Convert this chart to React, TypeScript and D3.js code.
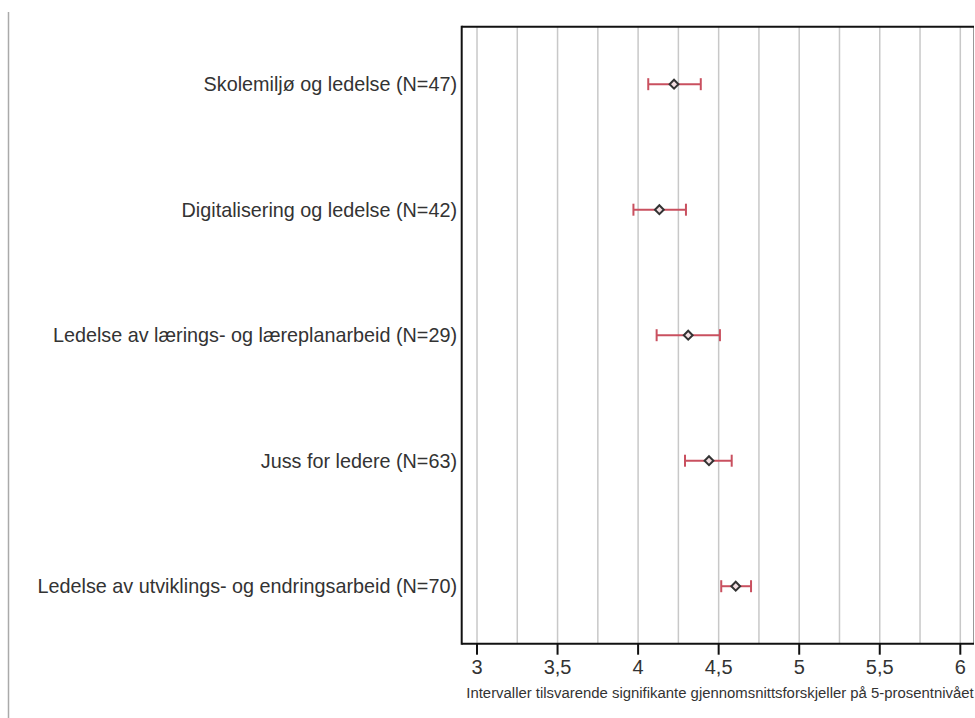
import React from "react";
import * as d3 from "d3";

const categories = [
  "Skolemiljø og ledelse (N=47)",
  "Digitalisering og ledelse (N=42)",
  "Ledelse av lærings- og læreplanarbeid (N=29)",
  "Juss for ledere (N=63)",
  "Ledelse av utviklings- og endringsarbeid (N=70)",
];
const means = [4.223, 4.132, 4.311, 4.44, 4.606];
const lower = [4.063, 3.971, 4.115, 4.291, 4.516];
const upper = [4.389, 4.297, 4.508, 4.581, 4.701];
const tickValues = [3, 3.5, 4, 4.5, 5, 5.5, 6];
const gridValues = [3, 3.25, 3.5, 3.75, 4, 4.25, 4.5, 4.75, 5, 5.25, 5.5, 5.75, 6];
const xTitle = "Intervaller tilsvarende signifikante gjennomsnittsforskjeller på 5-prosentnivået";

const W = 975;
const H = 718;
const left = 461.7;
const right = 974;
const top = 26.7;
const bottom = 643.7;

export default function App() {
  const x = d3.scaleLinear().domain([2.905, 6.085]).range([left, right]);
  const y = d3.scalePoint<string>().domain(categories).range([top, bottom]).padding(0.458);
  const fmt = (v: number) => String(v).replace(".", ",");
  const font = "'Liberation Sans', Arial, sans-serif";
  const diamond = d3.symbol().type(d3.symbolDiamond2).size(50)() as string;
  const barColor = "#c9505f";

  return (
    <svg
      width={W}
      height={H}
      style={{ position: "absolute", left: 0, top: 0, background: "#fff" }}
      fontFamily={font}
    >
      <line x1={8.5} x2={8.5} y1={12} y2={H} stroke="#aaa" strokeWidth={1.5} />
      {gridValues.map((g) => (
        <line key={g} x1={x(g)} x2={x(g)} y1={top} y2={bottom} stroke="#c8c8c8" strokeWidth={1.5} />
      ))}
      <line x1={right - 0.5} x2={right - 0.5} y1={top} y2={bottom} stroke="#999" strokeWidth={1} />
      <line x1={left} x2={right} y1={top} y2={top} stroke="#111" strokeWidth={2} />
      <line x1={left} x2={right} y1={bottom} y2={bottom} stroke="#111" strokeWidth={2} />
      <line x1={left} x2={left} y1={top - 1} y2={bottom + 1} stroke="#111" strokeWidth={2} />
      {tickValues.map((t) => (
        <g key={t}>
          <line x1={x(t)} x2={x(t)} y1={bottom} y2={bottom + 11} stroke="#111" strokeWidth={2} />
          <text x={x(t)} y={674} textAnchor="middle" fontSize={20} fill="#333">
            {fmt(t)}
          </text>
        </g>
      ))}
      <text x={720} y={698} textAnchor="middle" fontSize={14.9} fill="#333">
        {xTitle}
      </text>
      {categories.map((c, i) => {
        const cy = y(c) as number;
        return (
          <g key={c}>
            <text x={457} y={cy + 7} textAnchor="end" fontSize={19.8} fill="#333">
              {c}
            </text>
            <line x1={x(lower[i])} x2={x(upper[i])} y1={cy} y2={cy} stroke={barColor} strokeWidth={2} />
            <line x1={x(lower[i])} x2={x(lower[i])} y1={cy - 6} y2={cy + 6} stroke={barColor} strokeWidth={2} />
            <line x1={x(upper[i])} x2={x(upper[i])} y1={cy - 6} y2={cy + 6} stroke={barColor} strokeWidth={2} />
            <path
              d={diamond}
              transform={`translate(${x(means[i])},${cy})`}
              fill="#f3dfe2"
              stroke="#333"
              strokeWidth={2}
            />
          </g>
        );
      })}
    </svg>
  );
}
